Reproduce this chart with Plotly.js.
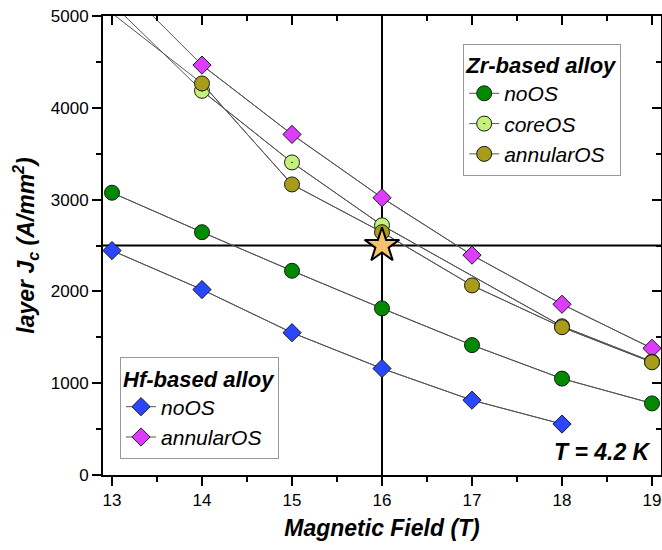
<!DOCTYPE html>
<html>
<head>
<meta charset="utf-8">
<script src="https://cdn.plot.ly/plotly-3.0.1.min.js"></script>
<style>html,body{margin:0;padding:0;background:#fff;}#chart{width:662px;height:550px;}</style>
</head>
<body>
<div id="chart"></div>
<script>
// ---- data ----
const field = [13, 14, 15, 16, 17, 18, 19];
const zrNoOS = [3075, 2645, 2225, 1815, 1415, 1050, 780];
const zrCoreField = [13, 14, 15, 16, 18, 19];
const zrCoreOS = [5135, 4185, 3405, 2720, 1620, 1235];
const zrAnnularOS = [5030, 4265, 3165, 2645, 2065, 1610, 1228];
const hfNoOSField = [13, 14, 15, 16, 17, 18];
const hfNoOS = [2445, 2020, 1550, 1160, 815, 555];
const hfAnnularOS = [5445, 4465, 3710, 3020, 2395, 1860, 1380];
const refField = [16];
const refJc = [2500];
const xTicks = [13, 14, 15, 16, 17, 18, 19];
const yTicks = [0, 1000, 2000, 3000, 4000, 5000];

const X_RANGE = [12.9, 19.1];
const Y_RANGE = [0, 5000];
const FONT = 'Arial, "Liberation Sans", sans-serif';
const LINE_COLOR = '#555555';

function inRange(xs, ys) {
  const ox = [], oy = [];
  xs.forEach((x, i) => { if (ys[i] <= Y_RANGE[1] && ys[i] >= Y_RANGE[0]) { ox.push(x); oy.push(ys[i]); } });
  return [ox, oy];
}

function series(name, xs, ys, symbol, color, size, legend) {
  const [mx, my] = inRange(xs, ys);
  return [
    { x: xs, y: ys, mode: 'lines', type: 'scatter', showlegend: false, hoverinfo: 'skip',
      line: { color: LINE_COLOR, width: 1 } },
    { x: mx, y: my, mode: 'lines+markers', type: 'scatter', name: name, legend: legend,
      line: { color: LINE_COLOR, width: 1 },
      marker: { symbol: symbol, size: size, color: color, line: { color: '#1a1a1a', width: 1 } } }
  ];
}

const traces = [].concat(
  series('noOS', hfNoOSField, hfNoOS, 'diamond', '#2a46ff', 14, 'legend2'),
  series('annularOS', field, hfAnnularOS, 'diamond', '#dd3cff', 14, 'legend2'),
  series('noOS', field, zrNoOS, 'circle', '#008a00', 15, 'legend'),
  series('coreOS', zrCoreField, zrCoreOS, 'circle-dot', '#c4f07c', 15, 'legend'),
  series('annularOS', field, zrAnnularOS, 'circle', '#a89c1a', 15, 'legend'),
  [{ x: refField, y: refJc, mode: 'markers', type: 'scatter', showlegend: false,
     marker: { symbol: 'star', size: 26, color: '#f5c46a', line: { color: '#000', width: 2 } } },
   { x: X_RANGE, y: Y_RANGE, xaxis: 'x2', yaxis: 'y2', mode: 'markers', type: 'scatter',
     showlegend: false, hoverinfo: 'skip', marker: { opacity: 0, size: 1 } }]
);

const axBase = {
  showgrid: false, zeroline: false, showline: true, linecolor: '#000', linewidth: 2,
  tickcolor: '#000', tickwidth: 2, ticklen: 9,
  tickfont: { family: FONT, size: 17, color: '#000' }
};

const titleFont = { family: FONT, size: 23, weight: 'bold', style: 'italic', color: '#000' };
const legTitleFont = { family: FONT, size: 22, weight: 'bold', style: 'italic', color: '#000' };
const legItemFont = { family: FONT, size: 21, style: 'italic', color: '#000' };

const layout = {
  width: 662, height: 550,
  margin: { l: 103, r: 1, t: 16, b: 75 },
  paper_bgcolor: '#fff', plot_bgcolor: '#fff',
  font: { family: FONT, color: '#000' },
  xaxis: Object.assign({}, axBase, {
    range: X_RANGE, tickvals: xTicks, ticks: 'outside',
    minor: { dtick: 0.5, tick0: 13, ticks: 'outside', ticklen: 5, tickwidth: 2, tickcolor: '#000' },
    title: { text: 'Magnetic Field (T)', standoff: 10, font: titleFont }
  }),
  yaxis: Object.assign({}, axBase, {
    range: Y_RANGE, tickvals: yTicks, ticks: 'outside',
    minor: { dtick: 500, tick0: 0, ticks: 'outside', ticklen: 5, tickwidth: 2, tickcolor: '#000' },
    title: { text: 'layer J<sub>c</sub> (A/mm<sup>2</sup>)', standoff: 10, font: titleFont }
  }),
  xaxis2: Object.assign({}, axBase, {
    overlaying: 'x', side: 'top', anchor: 'y2', range: X_RANGE, tickvals: xTicks, ticks: 'inside',
    showticklabels: false,
    minor: { dtick: 0.5, tick0: 13, ticks: 'inside', ticklen: 5, tickwidth: 2, tickcolor: '#000' }
  }),
  yaxis2: Object.assign({}, axBase, {
    overlaying: 'y', side: 'right', anchor: 'x2', range: Y_RANGE, tickvals: yTicks, ticks: 'inside',
    showticklabels: false,
    minor: { dtick: 500, tick0: 0, ticks: 'inside', ticklen: 5, tickwidth: 2, tickcolor: '#000' }
  }),
  shapes: [
    { type: 'line', xref: 'x', yref: 'paper', x0: refField[0], x1: refField[0], y0: 0, y1: 1,
      line: { color: '#000', width: 2 }, layer: 'below' },
    { type: 'line', xref: 'paper', yref: 'y', x0: 0, x1: 1, y0: refJc[0], y1: refJc[0],
      line: { color: '#000', width: 2 }, layer: 'below' }
  ],
  legend: {
    title: { text: 'Zr-based alloy', font: legTitleFont },
    x: 0.6455, y: 0.94, xanchor: 'left', yanchor: 'top',
    bgcolor: '#fff', bordercolor: '#999', borderwidth: 1,
    font: legItemFont, tracegroupgap: 0, itemwidth: 30
  },
  legend2: {
    title: { text: 'Hf-based alloy', font: legTitleFont },
    x: 0.0305, y: 0.035, xanchor: 'left', yanchor: 'bottom',
    bgcolor: '#fff', bordercolor: '#999', borderwidth: 1,
    font: legItemFont, tracegroupgap: 0, itemwidth: 30
  },
  annotations: [
    { text: 'T = 4.2 K', xref: 'paper', yref: 'paper', x: 0.985, y: 0.05, xanchor: 'right', yanchor: 'middle',
      showarrow: false, font: { family: FONT, size: 23, weight: 'bold', style: 'italic', color: '#000' } }
  ],
  showlegend: true
};

Plotly.newPlot('chart', traces, layout, { displayModeBar: false, staticPlot: true });
</script>
</body>
</html>
